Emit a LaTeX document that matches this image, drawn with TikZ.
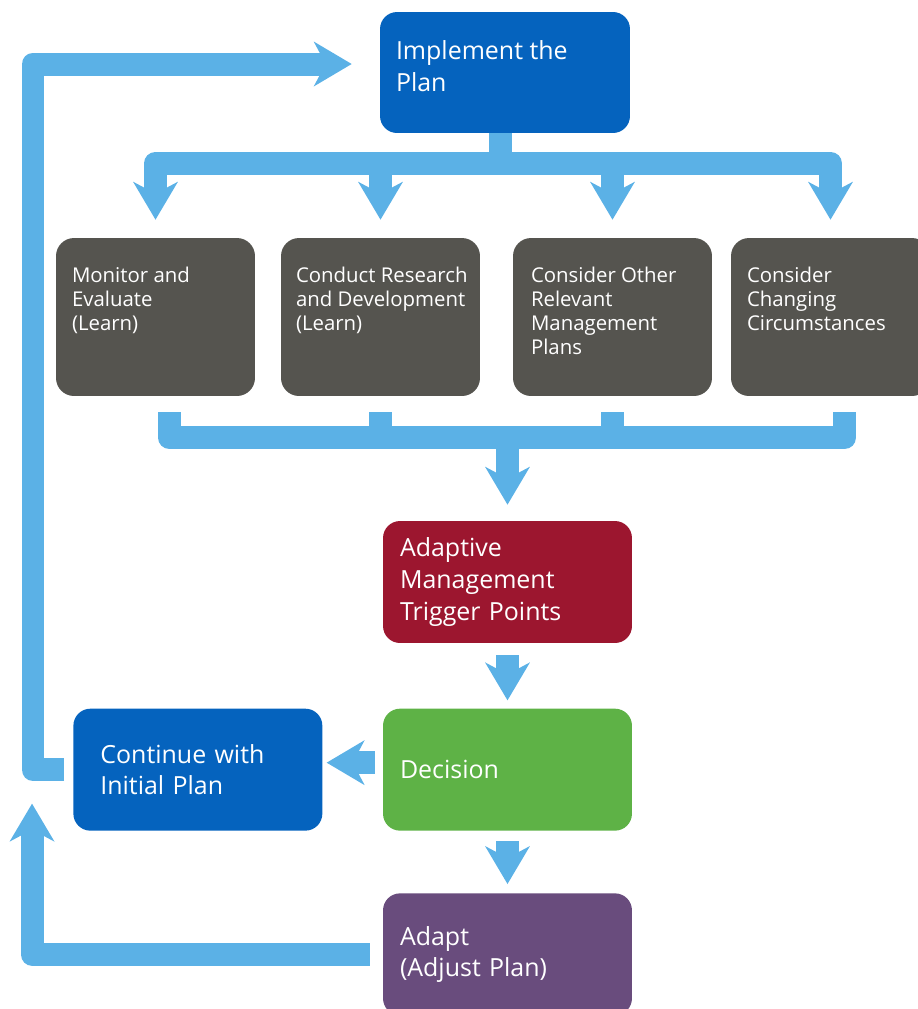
\documentclass[tikz,border=0pt]{standalone}
\usepackage{fontspec}
\setmainfont{Open Sans}
\usetikzlibrary{positioning,calc,arrows.meta}
\definecolor{flowblue}{HTML}{5BB1E6}
\definecolor{planblue}{HTML}{0563BE}
\definecolor{learngrey}{HTML}{55544F}
\definecolor{triggerred}{HTML}{9C162F}
\definecolor{decisiongreen}{HTML}{5EB246}
\definecolor{adaptpurple}{HTML}{694C7D}
\tikzset{
	box/.style={rounded corners=0.34cm, inner ysep=0pt, minimum height=2.44cm, align=left, text=white, font=\fontsize{14.2}{18}\selectfont},
	bigbox/.style={box, minimum width=4.98cm, text width=4.3cm, inner xsep=0.34cm},
	greybox/.style={rounded corners=0.36cm, fill=learngrey, minimum width=3.98cm, minimum height=3.16cm},
	greytext/.style={anchor=north west, inner sep=0pt, align=left, text=white, font=\fontsize{11.6}{13.7}\selectfont},
	bigtext/.style={greytext, font=\fontsize{14.2}{18}\selectfont},
	flow/.style={draw=flowblue, line width=0.46cm, line join=round},
	arr/.style={-{Stealth[length=0.76cm, width=0.9cm, inset=0.24cm, line width=0pt]}},
}

\begin{document}
\begin{tikzpicture}[x=0.02cm, y=-0.02cm]
	\clip (0,0) rectangle (918,1009);

	\node[box, fill=planblue, minimum width=5cm, minimum height=2.42cm] (impl) at (505,72.5) {};
	\node[bigtext] (impl-t) at ($(impl.north west)+(16,29)$) {Implement the\\Plan};

	\node[greybox] (mon) at (155.5,317) {};
	\node[greybox] (res) at (380.5,317) {};
	\node[greybox] (oth) at (612.5,317) {};
	\node[greybox] (chg) at (830.5,317) {};
	\node[greytext] (mon-t) at ($(mon.north west)+(16,29)$) {Monitor and\\Evaluate\\(Learn)};
	\node[greytext] (res-t) at ($(res.north west)+(15,29)$) {Conduct Research\\and Development\\(Learn)};
	\node[greytext] (oth-t) at ($(oth.north west)+(18,29)$) {Consider Other\\Relevant\\Management\\Plans};
	\node[greytext] (chg-t) at ($(chg.north west)+(16,29)$) {Consider\\Changing\\Circumstances};

	\node[bigbox, fill=triggerred] (trig) at (507.5,582) {Adaptive\\Management\\Trigger Points};
	\node[bigbox, fill=decisiongreen, below=1.3cm of trig] (dec) {Decision};
	\node[bigbox, fill=adaptpurple, below=1.24cm of dec] (adapt) {Adapt\\(Adjust Plan)};
	\node[bigbox, fill=planblue, text width=3.9cm, inner xsep=0.54cm, left=1.2cm of dec] (cont) {Continue with\\Initial Plan};

	\coordinate (split) at ($(impl.south)+(-5,30)$);
	\coordinate (join) at ($(trig.north)+(0,-83)$);
	\coordinate (loop) at (33,64);

	\draw[flow] ($(impl.south)+(-5,0)$) -- (split);
	\foreach \b in {mon,res,oth,chg}
		\draw[flow,arr] (split) -| ($(\b.north)+(0,-18)$);
	\draw[flow] ($(mon.south)+(14,16)$) |- (join);
	\foreach \b in {res,oth}
		\draw[flow] ($(\b.south)+(0,16)$) |- (join);
	\draw[flow] ($(chg.south)+(14,16)$) |- (join);
	\draw[flow,arr] (join) -- ($(trig.north)+(0,-16)$);
	\draw[flow,arr] ($(trig.south)+(0,12)$) -- ($(dec.north)+(0,-8)$);
	\draw[flow,arr] ($(dec.south)+(0,10)$) -- ($(adapt.north)+(0,-9)$);
	\draw[flow,arr] ($(dec.west)+(-8,-7)$) -- ($(cont.east)+(4,-7)$);
	\draw[flow,arr] ($(cont.west)+(-9,0)$) -| (loop) -- ($(impl.west)+(-28,-8.5)$);
	\draw[flow,arr] ($(adapt.west)+(-13,0)$) -| ($(cont.west)+(-41,34)$);
\end{tikzpicture}
\end{document}
